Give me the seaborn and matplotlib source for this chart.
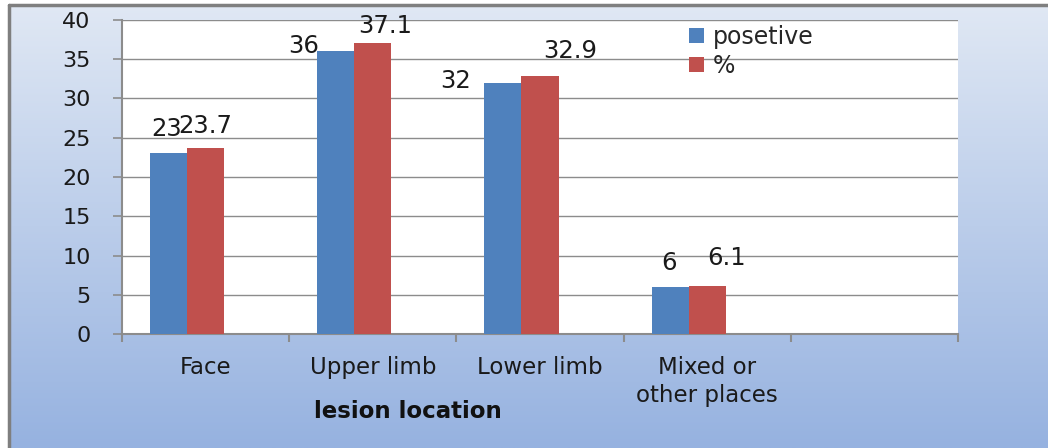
import numpy as np
import pandas as pd
import matplotlib
matplotlib.use("Agg")
import matplotlib.pyplot as plt
from matplotlib.lines import Line2D
from matplotlib.patches import Patch
from matplotlib.ticker import FixedLocator
import seaborn as sns

# Data
locations = ["Face", "Upper limb", "Lower limb", "Mixed or\nother places"]
series_names = ["posetive", "%"]
positive = [23, 36, 32, 6]
percent = [23.7, 37.1, 32.9, 6.1]
y_ticks = [0, 5, 10, 15, 20, 25, 30, 35, 40]

blue = "#4F81BD"
red = "#C0504D"
grey = "#8C8C8C"

sns.set_theme(style="white")
plt.rcParams["font.family"] = ["DejaVu Sans"]

W, H = 1048, 448
fig = plt.figure(figsize=(W / 100, H / 100), dpi=100)
fig.patch.set_facecolor("white")

# gradient chart background
bg = fig.add_axes([8 / W, 0, 1 - 8 / W, 1 - 5 / H], zorder=-10)
top_c = np.array([224, 232, 244]) / 255
bot_c = np.array([150, 178, 224]) / 255
t = np.linspace(0, 1, 256)[:, None]
grad = top_c[None, :] * (1 - t) + bot_c[None, :] * t
bg.imshow(grad[:, None, :].repeat(2, axis=1), aspect="auto", extent=[0, 1, 0, 1])
bg.set_axis_off()

# outer frame (top and left edges)
fig.add_artist(Line2D([8.5 / W, 1], [1 - 5 / H, 1 - 5 / H], color="#7F7F7F", lw=2.5,
                      transform=fig.transFigure))
fig.add_artist(Line2D([8.5 / W, 8.5 / W], [0, 1 - 5 / H], color="#7F7F7F", lw=2.5,
                      transform=fig.transFigure))

ax = fig.add_axes([122 / W, 1 - 334 / H, 836 / W, 314 / H])
ax.set_facecolor("white")

df = pd.DataFrame({
    "location": locations * 2,
    "series": [series_names[0]] * len(locations) + [series_names[1]] * len(locations),
    "value": positive + percent,
})

sns.barplot(data=df, x="location", y="value", hue="series", order=locations,
            hue_order=series_names + [" "],
            palette={series_names[0]: blue, series_names[1]: red, " ": "white"},
            width=0.664, gap=0, saturation=1, linewidth=0, errorbar=None,
            legend=False, ax=ax, zorder=3)

ax.set_xlim(-0.5, 4.5)
ax.set_ylim(0, 40)
ax.set_yticks(y_ticks)
ax.set_yticklabels([str(v) for v in y_ticks], fontsize=16)
ax.set_xticks(range(len(locations)))
ax.set_xticklabels(locations, fontsize=16.5, linespacing=1.25)
ax.xaxis.set_minor_locator(FixedLocator(np.arange(-0.5, 5.0, 1.0)))
ax.tick_params(axis="x", which="major", length=0, pad=16, colors="#1a1a1a")
ax.tick_params(axis="x", which="minor", length=6, width=1.5, color=grey, direction="out",
               bottom=True)
ax.tick_params(axis="y", which="major", length=6.5, width=1.2, color=grey, direction="out",
               pad=16, left=True, labelcolor="#1a1a1a")
ax.set_xlabel("")
ax.set_ylabel("")

ax.yaxis.grid(True, color=grey, lw=1)
ax.set_axisbelow(True)
for side in ("top", "right"):
    ax.spines[side].set_visible(False)
for side in ("left", "bottom"):
    ax.spines[side].set_color(grey)
    ax.spines[side].set_linewidth(1.5)

# value labels above each bar (offsets in pixels from the bar's top centre)
label_offsets = [
    [(-2, 17), (-32, -2), (-47, -5), (-1, 17)],
    [(0, 15), (12, 10), (30, 18), (19, 21)],
]
for ci, container in enumerate(ax.containers[:2]):
    for bi, bar in enumerate(container):
        v = bar.get_height()
        dx, dy = label_offsets[ci][bi]
        ax.annotate(f"{v:g}", (bar.get_x() + bar.get_width() / 2, v),
                    xytext=(dx, dy), textcoords="offset pixels",
                    ha="center", va="baseline", fontsize=17.5, color="#1a1a1a",
                    zorder=5, annotation_clip=False)

fig.text(408 / W, 1 - 412 / H, "lesion location", ha="center", va="center",
         fontsize=16.5, fontweight="bold", color="#111111")

handles = [Patch(facecolor=blue, edgecolor="none"), Patch(facecolor=red, edgecolor="none")]
fig.legend(handles, series_names, loc="upper left", bbox_to_anchor=(689 / W, 1 - 25 / H),
           frameon=False, fontsize=17, handlelength=0.62, handleheight=0.62,
           handletextpad=0.4, labelspacing=0.2, borderpad=0, borderaxespad=0)

fig.savefig("out.png", dpi=100, facecolor="white")
